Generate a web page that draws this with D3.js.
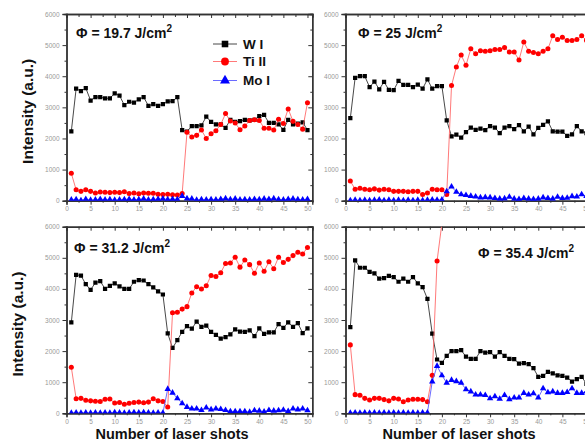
<!DOCTYPE html>
<html><head><meta charset="utf-8">
<script src="https://cdn.jsdelivr.net/npm/d3@7"></script>
<style>body{margin:0;background:#fff}svg{display:block}</style>
</head><body>
<svg id="c" width="585" height="441"></svg>
<script>
const shots = [1,2,3,4,5,6,7,8,9,10,11,12,13,14,15,16,17,18,19,20,21,22,23,24,25,26,27,28,29,30,31,32,33,34,35,36,37,38,39,40,41,42,43,44,45,46,47,48,49,50];
const xTicks = [0,5,10,15,20,25,30,35,40,45,50];
const yTicks = [0,1000,2000,3000,4000,5000,6000];
const seriesNames = ["W I","Ti II","Mo I"];
const fluences = ["19.7","25","31.2","35.4"];

// Panel a: 19.7 J/cm2
const wA = [2230,3600,3520,3620,3220,3330,3330,3290,3290,3450,3380,3070,3180,3150,3260,3330,3050,3100,3050,3100,3190,3200,3330,2270,2220,2400,2400,2420,2700,2530,2450,2450,2340,2600,2530,2560,2600,2580,2600,2720,2760,2500,2500,2450,2280,2600,2450,2480,2520,2270];
const tiA = [880,350,300,350,300,250,280,270,260,270,260,290,230,250,220,250,240,240,210,200,210,190,180,230,2200,2050,2100,2270,2000,2150,2250,2450,2800,2560,2500,2280,2400,2580,2600,2580,2330,2330,2270,2620,2480,2950,2550,2450,2300,3150];
const moA = [30,40,10,50,20,30,50,30,40,20,30,40,50,30,40,60,30,40,50,60,40,50,40,150,70,60,20,40,30,40,30,50,70,40,60,30,40,30,50,40,60,50,70,40,30,50,60,40,30,50];
// Panel b: 25 J/cm2
const wB = [2650,3950,4000,4000,3650,3830,3580,3820,3560,3550,3850,3720,3720,3650,3730,3600,3900,3600,3680,3680,2580,2070,2120,2030,2200,2350,2280,2320,2270,2400,2350,2170,2350,2400,2300,2430,2230,2380,2130,2340,2440,2550,2230,2220,2220,2080,2130,2400,2230,2170];
const tiB = [630,370,400,370,350,380,340,370,350,300,300,300,290,300,300,200,250,370,350,350,200,3700,4300,4680,4350,4880,4720,4820,4800,4820,4860,4860,4920,4780,4780,4520,5100,4800,4760,4720,4800,4880,5300,5180,5250,5150,5150,5180,5300,5150];
const moB = [10,20,10,20,10,20,30,10,20,10,20,10,20,10,20,10,20,30,20,30,300,450,280,200,180,150,130,100,110,100,80,60,70,120,60,50,80,60,50,60,100,80,60,120,80,90,140,130,200,150];
// Panel c: 31.2 J/cm2
const wC = [2920,4450,4430,4150,3970,4200,4250,4000,4100,4180,4080,4000,4000,4230,4280,4270,4150,4050,3920,3820,2570,2100,2350,2620,2800,2720,2950,2780,2820,2620,2520,2400,2450,2540,2700,2630,2620,2670,2480,2730,2550,2600,2600,2870,2750,2920,2780,2900,2580,2730];
const tiC = [1480,470,480,420,400,390,380,450,460,330,350,290,320,350,360,340,360,470,400,380,200,3230,3250,3350,3430,3870,4070,4000,4100,4430,4400,4520,4820,4830,5020,4700,4930,4780,4500,4830,4570,4870,4650,5020,4850,4950,5070,5180,5120,5330];
const moC = [10,20,10,20,10,20,10,20,10,30,20,10,20,30,20,30,20,10,20,10,780,660,480,320,200,150,150,100,180,120,150,130,100,60,60,60,60,40,90,80,50,100,80,90,110,70,150,120,150,90];
// Panel d: 35.4 J/cm2 (Ti II leaves the plotted range after shot 19)
const wD = [2770,4920,4680,4680,4550,4500,4330,4350,4420,4380,4230,4330,4230,4380,4180,4060,3680,2560,1730,1620,1850,2000,2000,2030,1820,1750,1750,2000,1950,1970,1820,1970,1850,1750,1740,1600,1610,1580,1450,1170,1200,1330,1280,1220,1200,1150,1020,1100,1170,950];
const tiD = [2200,600,580,480,430,480,480,440,400,480,460,370,430,450,450,440,370,1220,4900,6100];
const moD = [10,20,10,20,10,20,10,20,10,20,10,20,10,20,10,20,20,1020,1520,1220,980,1070,1030,980,770,700,600,600,580,480,540,460,580,450,500,500,650,600,640,500,800,670,700,650,650,680,800,650,650,700];

const panelData = [[wA,tiA,moA],[wB,tiB,moB],[wC,tiC,moC],[wD,tiD,moD]];

const FONT = "'Liberation Sans', Arial, Helvetica, sans-serif";
const svg = d3.select("#c");
const boxes = [
  {l:66.5, t:14, b:200.7, ann:[76,38], ylab:27, xlab:null},
  {l:345.5, t:14, b:200.7, ann:[358,38], ylab:null, xlab:null},
  {l:66.5, t:226.7, b:413.3, ann:[74,253], ylab:17.5, xlab:172},
  {l:345.5, t:226.7, b:413.3, ann:[478,258], ylab:null, xlab:459}
];
const seriesStyle = [
  {line:"#333", fill:"#000", shape:d3.symbolSquare, size:18},
  {line:"#ff6a6a", fill:"#ff0000", shape:d3.symbolCircle, size:20},
  {line:"#5a5aff", fill:"#0000ff", shape:d3.symbolTriangle, size:18}
];
const xMinor = [2.5,7.5,12.5,17.5,22.5,27.5,32.5,37.5,42.5,47.5];
const yMinor = [500,1500,2500,3500,4500,5500];
const fmt = d3.format("d");

boxes.forEach((bx, pi) => {
  const x = d3.scaleLinear().domain([0, 51]).range([bx.l, bx.l + 245.8]);
  const y = d3.scaleLinear().domain([0, 6000]).range([bx.b, bx.t]);
  const g = svg.append("g");
  const cid = "clip" + pi;
  svg.append("clipPath").attr("id", cid).append("rect")
    .attr("x", x(0)).attr("y", y(6000)).attr("width", x(51) - x(0)).attr("height", y(0) - y(6000));

  const ax = (gen, tr) => {
    const a = g.append("g").attr("transform", tr).call(gen);
    a.selectAll(".domain").attr("stroke", "#333").attr("stroke-width", 1.4);
    a.selectAll(".tick line").attr("stroke", "#333").attr("stroke-width", 1);
    a.selectAll("text").attr("font-family", FONT).attr("font-size", 6.5).attr("fill", "#999");
    return a;
  };
  ax(d3.axisBottom(x).tickValues(xTicks).tickSize(4).tickPadding(2).tickFormat(fmt), `translate(0,${bx.b})`);
  ax(d3.axisBottom(x).tickValues(xMinor).tickSize(2).tickFormat(""), `translate(0,${bx.b})`);
  ax(d3.axisTop(x).tickValues(xTicks).tickSize(-4).tickFormat(""), `translate(0,${bx.t})`);
  ax(d3.axisTop(x).tickValues(xMinor).tickSize(-3).tickFormat(""), `translate(0,${bx.t})`);
  ax(d3.axisLeft(y).tickValues(yTicks).tickSize(4).tickPadding(3).tickFormat(fmt), `translate(${bx.l},0)`);
  ax(d3.axisLeft(y).tickValues(yMinor).tickSize(2).tickFormat(""), `translate(${bx.l},0)`);
  ax(d3.axisRight(y).tickValues(yTicks).tickSize(-4).tickFormat(""), `translate(${x(51)},0)`);
  ax(d3.axisRight(y).tickValues(yMinor).tickSize(-2).tickFormat(""), `translate(${x(51)},0)`);

  const pg = g.append("g").attr("clip-path", `url(#${cid})`);
  panelData[pi].forEach((vals, si) => {
    const st = seriesStyle[si];
    const pts = vals.map((v, i) => [shots[i], v]);
    pg.append("path").datum(pts)
      .attr("d", d3.line().x(d => x(d[0])).y(d => y(d[1])))
      .attr("fill", "none").attr("stroke", st.line).attr("stroke-width", 0.9);
    pg.selectAll(null).data(pts).enter().append("path")
      .attr("transform", d => `translate(${x(d[0])},${y(d[1])})`)
      .attr("d", d3.symbol().type(st.shape).size(st.size))
      .attr("fill", st.fill);
  });

  const t = g.append("text").attr("x", bx.ann[0]).attr("y", bx.ann[1])
    .attr("font-family", FONT).attr("font-weight", "bold").attr("font-size", 14).attr("fill", "#111");
  t.append("tspan").text(`\u03A6 = ${fluences[pi]} J/cm`);
  t.append("tspan").text("2").attr("font-size", 10).attr("dy", -6);

  if (bx.ylab !== null) {
    g.append("text").attr("transform", `translate(${bx.ylab},${(bx.t + bx.b) / 2 + 4}) rotate(-90)`)
      .attr("text-anchor", "middle").attr("dominant-baseline", "central")
      .attr("font-family", FONT).attr("font-weight", "bold").attr("font-size", 15.5).attr("fill", "#111")
      .text("Intensity (a.u.)");
  }
  if (bx.xlab !== null) {
    g.append("text").attr("x", bx.xlab).attr("y", 438.5)
      .attr("text-anchor", "middle")
      .attr("font-family", FONT).attr("font-weight", "bold").attr("font-size", 14.5).attr("fill", "#111")
      .text("Number of laser shots");
  }
});

const lg = svg.append("g");
const legY = [44, 61.5, 80.5];
seriesNames.forEach((name, si) => {
  const st = seriesStyle[si];
  lg.append("line").attr("x1", 213).attr("x2", 237).attr("y1", legY[si]).attr("y2", legY[si])
    .attr("stroke", st.line).attr("stroke-width", 0.9);
  lg.append("path").attr("transform", `translate(225,${legY[si]})`)
    .attr("d", d3.symbol().type(st.shape).size(st.size * 2.4)).attr("fill", st.fill);
  lg.append("text").attr("x", 243).attr("y", legY[si]).attr("dominant-baseline", "central")
    .attr("font-family", FONT).attr("font-weight", "bold").attr("font-size", 13.5).attr("fill", "#111")
    .text(name);
});
</script>
</body></html>
